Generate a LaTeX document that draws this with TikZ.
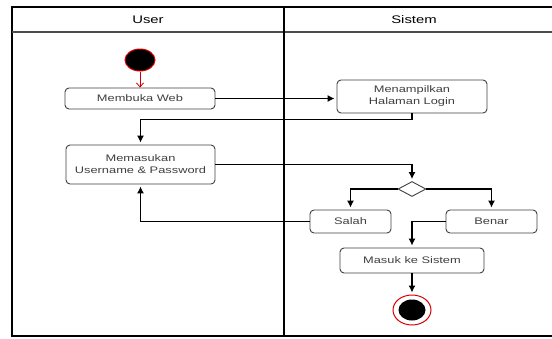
\documentclass[tikz,border=0pt]{standalone}
\usepackage{fontspec}
\setmainfont{Liberation Sans}[FakeStretch=1.35]
\usetikzlibrary{arrows.meta,shapes.geometric}
\tikzset{
  actbox/.style={draw=black!75, rounded corners=4pt, line width=0.9pt, fill=white,
    text=black!75, font=\fontsize{9.5}{12}\selectfont, align=center, inner sep=0pt},
  flow/.style={line width=1.1pt, -{Latex[length=7pt,width=7pt]}, shorten >=2pt},
}

\begin{document}
\begin{tikzpicture}[x=1pt,y=-1pt]
        \useasboundingbox (0,0) rectangle (552,338);
        %泳道
        \draw [line width=1.2pt] (552,7) -- (12,7) -- (12,336) -- (552,336);
        \draw [line width=1.2pt, black!70] (12,32) -- (552,32);
        \draw [line width=1.2pt] (284,7) -- (284,336);
        \node [font=\fontsize{11}{13}\selectfont] (laneuser) at (148,20) {User};
        \node [font=\fontsize{11}{13}\selectfont] (lanesistem) at (414,20) {Sistem};
        %开始
        \node [ellipse, minimum width=30pt, minimum height=22pt, inner sep=0pt,
               fill=black, draw=red!85!black, line width=1pt] (start) at (140,60) {};
        %活动
        \node [actbox, minimum width=150pt, minimum height=21pt] (web) at (140,98.5) {Membuka Web};
        \node [actbox, minimum width=150pt, minimum height=33pt] (login) at (412,96.5) {Menampilkan\\Halaman Login};
        \node [actbox, minimum width=149pt, minimum height=39pt] (input) at (140.5,164.5) {Memasukan\\Username \& Password};
        \node [diamond, draw=black!75, line width=0.9pt, fill=white, inner sep=0pt,
               minimum width=28pt, minimum height=15pt] (cek) at (412,189) {};
        \node [actbox, minimum width=81pt, minimum height=23pt] (salah) at (350.5,221.5) {Salah};
        \node [actbox, minimum width=91pt, minimum height=23pt] (benar) at (491.5,221.5) {Benar};
        \node [actbox, minimum width=144pt, minimum height=25pt] (masuk) at (412,260.5) {Masuk ke Sistem};
        %结束
        \node [ellipse, minimum width=38pt, minimum height=30pt, inner sep=0pt,
               fill=white, draw=red!85!black, line width=1pt] (end) at (412,310) {};
        \node [ellipse, minimum width=27pt, minimum height=21pt, inner sep=0pt, fill=black] (endcore) at (end) {};
        %连线
        \draw [line width=0.8pt, red!80!black, -{Straight Barb[length=4pt,width=7pt]}] (start) -- (web);
        \draw [flow] (web.east) -- (web.east -| login.west);
        \draw [flow] (login.south) -- ++(0,6) -| (input.north);
        \draw [flow] (input.east) -| (cek.north);
        \draw [flow] (cek.west) -| (salah.north);
        \draw [flow] (cek.east) -| (benar.north);
        \draw [flow] (salah.west) -| (input.south);
        \draw [flow] (benar.west) -| (masuk.north);
        \draw [flow] (masuk) -- (end);
\end{tikzpicture}
\end{document}
